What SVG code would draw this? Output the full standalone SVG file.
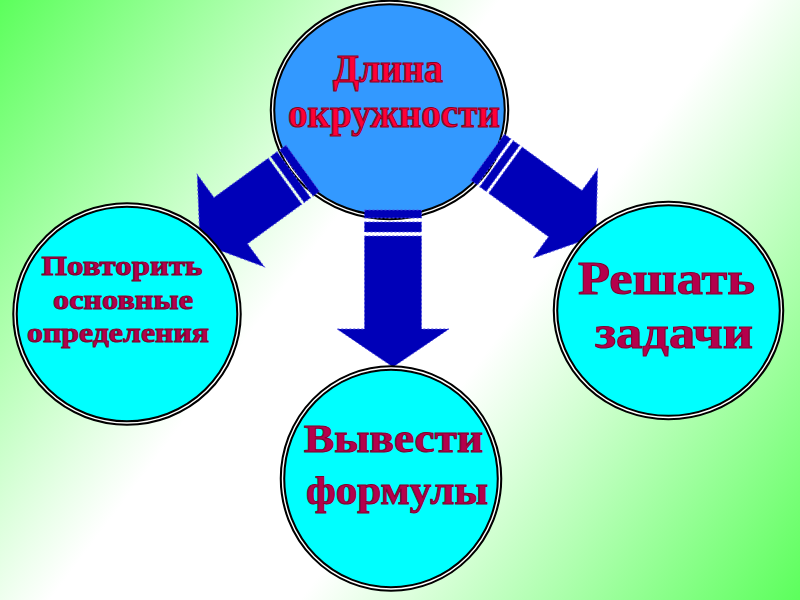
<svg xmlns="http://www.w3.org/2000/svg" width="800" height="600" viewBox="0 0 800 600">
<defs>
<linearGradient id="bg" gradientUnits="userSpaceOnUse" x1="0" y1="0" x2="800" y2="600">
<stop offset="0" stop-color="#5cff5c"/>
<stop offset="0.4" stop-color="#ffffff"/>
<stop offset="0.6" stop-color="#ffffff"/>
<stop offset="1" stop-color="#5cff5c"/>
</linearGradient>
<style>
.ring{stroke:#000;stroke-width:5.5}
.gap{fill:none;stroke:#fff;stroke-width:1.4}
.main{fill:#3399ff}
.sub{fill:#00ffff}
.arrow{fill:#0000b8;stroke:#5050e0;stroke-width:1;stroke-dasharray:2 2}
.t1{font-family:"Liberation Serif","DejaVu Serif",serif;font-weight:bold;fill:#ff0036;stroke:#8a0024;stroke-width:1.2;text-anchor:middle}
.t2{font-family:"Liberation Serif","DejaVu Serif",serif;font-weight:bold;fill:#b4004c;stroke:#80002e;stroke-width:1;text-anchor:middle}
</style>
</defs>
<rect width="800" height="600" fill="url(#bg)"/>
<g id="node-center">
<ellipse class="ring main" cx="389.5" cy="110" rx="117" ry="107.5"/>
<ellipse class="gap" cx="389.5" cy="110" rx="117" ry="107.5"/>
<text class="t1" x="388" y="82" font-size="40" textLength="110" lengthAdjust="spacingAndGlyphs">Длина</text>
<text class="t1" x="394" y="127" font-size="40" textLength="212" lengthAdjust="spacingAndGlyphs">окружности</text>
</g>
<g id="connectors">
<g transform="translate(200 243) rotate(54)">
<polygon class="arrow" points="0,0 -57,-38 -28.5,-38 -28.5,-105 28.5,-105 28.5,-38 57,-38"/>
<rect class="arrow" x="-28.5" y="-116" width="57" height="8"/>
<rect class="arrow" x="-28.5" y="-127" width="57" height="8"/>
</g>
<g transform="translate(596 236) rotate(-54)">
<polygon class="arrow" points="0,0 -55,-38 -28.5,-38 -28.5,-112 28.5,-112 28.5,-38 55,-38"/>
<rect class="arrow" x="-28.5" y="-123" width="57" height="8"/>
<rect class="arrow" x="-28.5" y="-134" width="57" height="8"/>
</g>
<g transform="translate(393 367)">
<polygon class="arrow" points="0,0 -56,-38 -28.5,-38 -28.5,-131 28.5,-131 28.5,-38 56,-38"/>
<rect class="arrow" x="-28.5" y="-145" width="57" height="10"/>
<rect class="arrow" x="-28.5" y="-157" width="57" height="8"/>
</g>
</g>
<g id="node-left">
<ellipse class="ring sub" cx="127" cy="314" rx="112" ry="109"/>
<ellipse class="gap" cx="127" cy="314" rx="112" ry="109"/>
<text class="t2" x="122" y="275" font-size="28" textLength="161" lengthAdjust="spacingAndGlyphs">Повторить</text>
<text class="t2" x="123" y="309" font-size="28" textLength="140" lengthAdjust="spacingAndGlyphs">основные</text>
<text class="t2" x="118" y="342" font-size="28" textLength="182" lengthAdjust="spacingAndGlyphs">определения</text>
</g>
<g id="node-bottom">
<ellipse class="ring sub" cx="391" cy="478.5" rx="108.5" ry="110.5"/>
<ellipse class="gap" cx="391" cy="478.5" rx="108.5" ry="110.5"/>
<text class="t2" x="393.5" y="452" font-size="39" textLength="179" lengthAdjust="spacingAndGlyphs">Вывести</text>
<text class="t2" x="397" y="504" font-size="39" textLength="182" lengthAdjust="spacingAndGlyphs">формулы</text>
</g>
<g id="node-right">
<ellipse class="ring sub" cx="668.5" cy="310.5" rx="113" ry="107"/>
<ellipse class="gap" cx="668.5" cy="310.5" rx="113" ry="107"/>
<text class="t2" x="666.5" y="294" font-size="47" textLength="177" lengthAdjust="spacingAndGlyphs">Решать</text>
<text class="t2" x="674" y="348" font-size="47" textLength="158" lengthAdjust="spacingAndGlyphs">задачи</text>
</g>
</svg>
